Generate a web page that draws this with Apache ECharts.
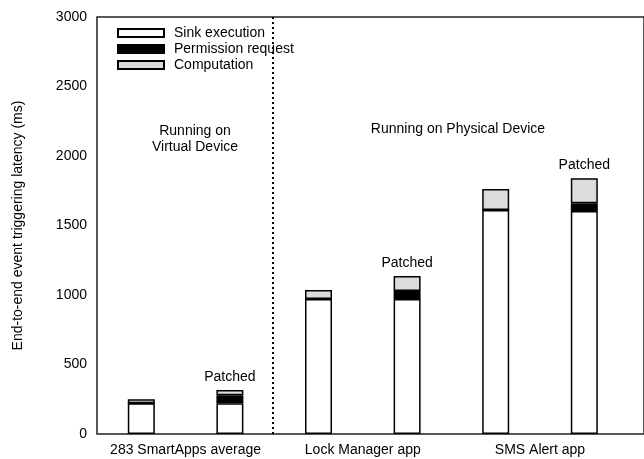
<!DOCTYPE html>
<html><head><meta charset="utf-8">
<script src="https://cdn.jsdelivr.net/npm/echarts@6/dist/echarts.min.js"></script>
<style>html,body{margin:0;padding:0;background:#fff}#c{width:644px;height:459px}</style>
</head><body><div id="c"></div>
<script>
const groupLabels = ['283 SmartApps average', 'Lock Manager app', 'SMS Alert app'];
const barCategories = ['avg', 'avg patched', 'lock', 'lock patched', 'sms', 'sms patched'];
const barPatched = [false, true, false, true, false, true];
const sinkExecution = [222, 222, 971, 971, 1612, 1605];
const permissionRequest = [0, 57, 0, 58, 0, 55];
const computation = [28, 37, 65, 108, 151, 180];
const yTicks = [0, 500, 1000, 1500, 2000, 2500, 3000];

const FONT = 'Liberation Sans, Arial, sans-serif';
const chart = echarts.init(document.getElementById('c'));

function mk(name, vals, color, isTop) {
  return {
    name: name, type: 'bar', stack: 'total', barWidth: 27,
    xAxisIndex: 1, yAxisIndex: 1,
    itemStyle: { color: color, borderColor: '#000', borderWidth: 1.5 },
    data: vals.map((v, i) => {
      const d = { value: v };
      if (isTop && barPatched[i]) {
        d.label = { show: true, position: 'top', formatter: 'Patched', distance: 6,
          fontSize: 14, fontFamily: FONT, color: '#000' };
      }
      return d;
    })
  };
}

const series = [
  {
    name: 'divider', type: 'line', xAxisIndex: 0, yAxisIndex: 0, data: [[1.5, 0]],
    symbol: 'none', showSymbol: false, lineStyle: { width: 0 },
    markLine: {
      silent: true, symbol: 'none', label: { show: false },
      lineStyle: { color: '#000', type: [2, 3], width: 2 },
      data: [{ xAxis: 1.5 }]
    }
  },
  mk('Sink execution', sinkExecution, '#ffffff', false),
  mk('Permission request', permissionRequest, '#000000', false),
  mk('Computation', computation, '#dcdcdc', true)
];

chart.setOption({
  animation: false,
  grid: [
    { left: 97, right: -3, top: 17, bottom: 25, show: true, borderColor: '#222', borderWidth: 1.5, backgroundColor: 'transparent' },
    { left: 97, right: 15.4, top: 17, bottom: 25 }
  ],
  legend: {
    orient: 'vertical', left: 112, top: 21, itemWidth: 46, itemHeight: 8, itemGap: 2,
    icon: 'rect',
    textStyle: { fontSize: 14, fontFamily: FONT, color: '#000', padding: [0, 0, 0, 5] },
    data: ['Sink execution', 'Permission request', 'Computation']
  },
  xAxis: [
    { type: 'value', gridIndex: 0, min: -0.5, max: 5.71, show: false, splitLine: { show: false } },
    { type: 'category', gridIndex: 1, data: barCategories, show: false },
    { type: 'category', gridIndex: 1, data: groupLabels, position: 'bottom',
      axisLine: { show: false }, axisTick: { show: false }, splitLine: { show: false },
      axisLabel: { fontSize: 14, fontFamily: FONT, color: '#000', margin: 9, interval: 0 } }
  ],
  yAxis: [
    { type: 'value', gridIndex: 0, min: 0, max: 3000, show: false, splitLine: { show: false } },
    {
      type: 'value', gridIndex: 1, min: 0, max: 3000, interval: 500,
      name: 'End-to-end event triggering latency (ms)', nameLocation: 'middle', nameGap: 72,
      nameTextStyle: { fontSize: 14, fontFamily: FONT, color: '#000' },
      splitLine: { show: false },
      axisTick: { show: false },
      axisLine: { show: false },
      axisLabel: { fontSize: 14, fontFamily: FONT, color: '#000', margin: 10,
        formatter: v => yTicks.includes(v) ? String(v) : '' }
    }
  ],
  graphic: [
    { type: 'text', style: { text: 'Running on\nVirtual Device', x: 195, y: 123, align: 'center', fontSize: 14, fontFamily: FONT, fill: '#000', lineHeight: 16 } },
    { type: 'text', style: { text: 'Running on Physical Device', x: 458, y: 122, align: 'center', fontSize: 14, fontFamily: FONT, fill: '#000' } }
  ],
  series: series
});
</script></body></html>
